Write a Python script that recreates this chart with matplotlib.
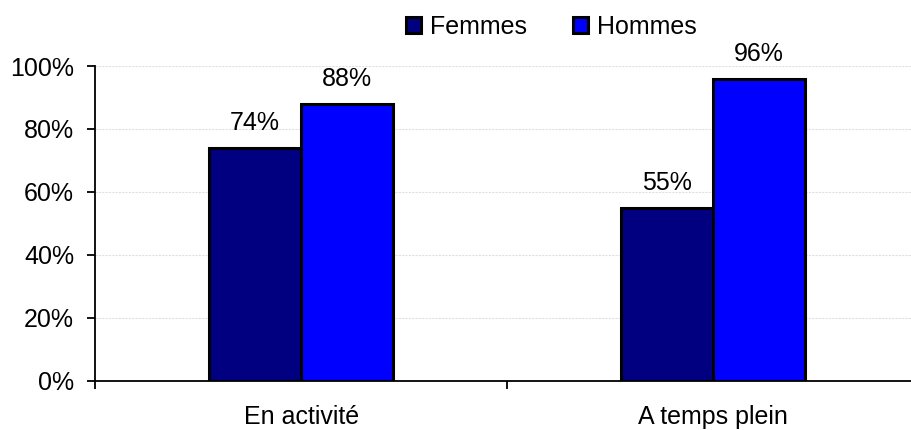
import matplotlib
matplotlib.use('Agg')
from matplotlib import pyplot as plt
from matplotlib.ticker import FuncFormatter
import numpy as np

# Chart data
categories = ['En activité', 'A temps plein']
series_names = ['Femmes', 'Hommes']
femmes = [0.74, 0.55]
hommes = [0.88, 0.96]
colors = ['#000080', '#0000FF']

plt.rcParams['font.family'] = ['Liberation Sans', 'DejaVu Sans']
fs = 18

fig = plt.figure(figsize=(9.11, 4.30), dpi=100)
ax = fig.add_axes([0.1043, 0.114, 0.8957, 0.7325])

x = np.arange(len(categories))
width = 0.223

for i, (name, vals) in enumerate(zip(series_names, [femmes, hommes])):
    offset = (i - 0.5) * width
    b = ax.bar(x + offset, vals, width, color=colors[i], edgecolor='black',
               linewidth=2.2, label=name, zorder=3)
    # value labels above each bar
    for rect, v in zip(b, vals):
        ax.annotate(f'{v * 100:.0f}%',
                    (rect.get_x() + rect.get_width() / 2, rect.get_height()),
                    xytext=(0, 9), textcoords='offset points',
                    ha='center', va='bottom', fontsize=fs, zorder=4)

ax.set_ylim(0, 1)
ax.set_xlim(-0.5, 1.48)
ax.set_yticks([0, 0.2, 0.4, 0.6, 0.8, 1.0])
ax.yaxis.set_major_formatter(FuncFormatter(lambda v, p: f'{v * 100:.0f}%'))
ax.yaxis.grid(True, color='#e0e0e0', linestyle=(0, (2, 1)), linewidth=0.8, zorder=0)

# category labels at centers, tick marks at boundaries
ax.set_xticks(x)
ax.set_xticklabels(categories)
ax.set_xticks([-0.5, 0.5], minor=True)
ax.tick_params(axis='x', which='major', length=0, pad=17, labelsize=fs)
ax.tick_params(axis='x', which='minor', length=6, width=1.3, direction='out')
ax.tick_params(axis='y', length=6, width=1.3, direction='out', pad=9, labelsize=fs)

for side in ['top', 'right']:
    ax.spines[side].set_visible(False)
for side in ['left', 'bottom']:
    ax.spines[side].set_linewidth(1.3)

lgd = ax.legend(loc='lower center', bbox_to_anchor=(0.559, 1.085), ncol=2,
                frameon=False, fontsize=fs, handlelength=0.6, handleheight=0.6,
                handletextpad=0.35, columnspacing=1.85, borderaxespad=0,
                borderpad=0)

fig.savefig('out.png', dpi=100)
plt.close()
